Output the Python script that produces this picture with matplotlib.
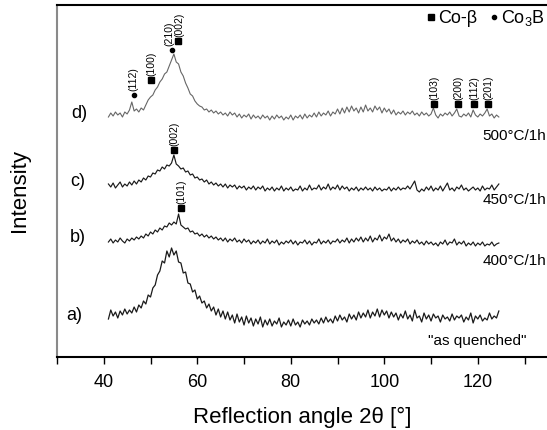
import numpy as np
import matplotlib
matplotlib.use("Agg")
import matplotlib.pyplot as plt
from matplotlib.lines import Line2D
from matplotlib.ticker import MultipleLocator

plt.rcParams["font.family"] = ["Liberation Sans", "DejaVu Sans"]
plt.rcParams["mathtext.fontset"] = "custom"
plt.rcParams["mathtext.rm"] = "Liberation Sans"
plt.rcParams["mathtext.it"] = "Liberation Sans:italic"

# XRD scans: 2theta from 41 deg in 0.5 deg steps, arbitrary units
angle_start = 41.0
angle_step = 0.5

# fmt: off
as_quenched = [
    18, 27, 21, 25, 19, 26, 22, 28, 23, 27,
    24, 30, 25, 32, 29, 36, 33, 42, 40, 49,
    52, 62, 66, 76, 74, 86, 80, 89, 82, 86,
    75, 74, 64, 65, 54, 53, 45, 47, 38, 41,
    34, 36, 29, 33, 26, 30, 22, 28, 20, 26,
    18, 25, 17, 22, 14, 23, 15, 20, 12, 21,
    14, 19, 11, 18, 13, 20, 10, 17, 12, 18,
    11, 16, 13, 19, 10, 15, 12, 17, 11, 18,
    12, 15, 10, 17, 13, 16, 12, 18, 14, 17,
    13, 19, 14, 20, 15, 18, 14, 21, 16, 22,
    17, 20, 15, 23, 18, 22, 17, 25, 19, 24,
    20, 27, 19, 25, 21, 28, 20, 27, 22, 26,
    19, 25, 20, 24, 17, 23, 19, 26, 18, 22,
    16, 27, 19, 21, 15, 24, 18, 22, 16, 23,
    19, 21, 15, 22, 18, 20, 16, 23, 17, 21,
    19, 22, 15, 20, 17, 24, 14, 21, 18, 22,
    16, 19, 17, 24, 18, 21, 19, 26,
]
annealed_400 = [
    21, 24, 20, 23, 21, 25, 22, 20, 24, 22,
    25, 23, 26, 24, 27, 25, 29, 27, 31, 29,
    33, 31, 35, 33, 37, 36, 40, 38, 41, 39,
    49, 38, 36, 34, 35, 31, 32, 29, 30, 27,
    29, 26, 28, 25, 27, 24, 26, 23, 25, 22,
    25, 21, 24, 22, 25, 21, 23, 20, 24, 21,
    23, 19, 22, 20, 23, 19, 22, 20, 24, 19,
    22, 20, 23, 18, 21, 19, 22, 20, 23, 19,
    22, 18, 21, 20, 23, 19, 22, 18, 21, 20,
    24, 19, 22, 20, 23, 19, 22, 21, 24, 20,
    23, 21, 25, 20, 24, 21, 25, 22, 26, 21,
    25, 22, 27, 21, 25, 23, 28, 22, 26, 24,
    29, 22, 25, 21, 24, 20, 23, 21, 24, 19,
    22, 20, 23, 19, 21, 18, 22, 19, 21, 18,
    20, 17, 21, 19, 23, 18, 21, 20, 24, 18,
    21, 19, 22, 17, 20, 18, 21, 17, 20, 18,
    21, 17, 19, 18, 21, 17, 19, 20,
]
annealed_450 = [
    23, 20, 24, 19, 22, 25, 20, 23, 21, 25,
    22, 26, 23, 27, 25, 29, 27, 31, 30, 34,
    33, 37, 36, 40, 38, 42, 41, 44, 52, 43,
    41, 38, 39, 35, 36, 32, 33, 29, 30, 27,
    28, 25, 27, 23, 25, 22, 24, 21, 23, 20,
    23, 19, 22, 20, 22, 18, 21, 19, 21, 17,
    20, 18, 21, 17, 20, 18, 21, 16, 19, 17,
    20, 16, 19, 17, 21, 16, 19, 17, 20, 16,
    18, 17, 21, 16, 19, 17, 22, 17, 19, 18,
    22, 17, 20, 18, 23, 17, 20, 18, 22, 17,
    21, 18, 20, 16, 19, 17, 20, 16, 19, 17,
    20, 17, 19, 16, 20, 17, 19, 16, 18, 17,
    20, 16, 19, 17, 20, 17, 19, 18, 21, 18,
    22, 26, 17, 15, 18, 16, 20, 17, 21, 16,
    19, 17, 21, 16, 20, 24, 17, 19, 16, 20,
    18, 22, 17, 19, 16, 18, 20, 17, 19, 16,
    21, 17, 19, 18, 22, 17, 20, 23,
]
annealed_500 = [
    17, 21, 18, 22, 19, 21, 17, 22, 20, 24,
    32, 23, 25, 22, 26, 24, 29, 34, 37, 39,
    44, 47, 52, 55, 60, 62, 68, 74, 80, 72,
    70, 62, 58, 51, 46, 40, 38, 33, 30, 28,
    27, 24, 25, 22, 24, 21, 23, 20, 22, 19,
    21, 18, 22, 19, 21, 17, 20, 16, 19, 17,
    20, 15, 19, 16, 18, 15, 19, 16, 18, 14,
    18, 15, 19, 16, 18, 14, 17, 15, 19, 14,
    18, 16, 19, 15, 20, 16, 19, 17, 21, 17,
    22, 18, 21, 19, 23, 18, 22, 20, 25, 20,
    26, 21, 27, 22, 28, 23, 26, 21, 27, 22,
    29, 23, 26, 22, 28, 24, 27, 21, 26, 22,
    25, 20, 24, 19, 22, 20, 23, 19, 22, 20,
    23, 19, 21, 18, 22, 19, 21, 18, 20, 26,
    19, 16, 20, 18, 21, 19, 22, 18, 21, 25,
    18, 17, 20, 18, 21, 17, 24, 19, 17, 20,
    18, 21, 25, 18, 20, 16, 19, 17,
]
# fmt: on

scans = [as_quenched, annealed_400, annealed_450, annealed_500]
sample_labels = ["a)", "b)", "c)", "d)"]
treatment_labels = ['"as quenched"', "400°C/1h", "450°C/1h", "500°C/1h"]

# indexed reflections: angle, hkl, phase
peak_angle = [46.4, 50.2, 54.5, 55.8, 110.7, 115.8, 119.2, 122.2, 55.0, 56.5]
peak_hkl = ["(112)", "(100)", "(210)", "(002)", "(103)", "(200)", "(112)", "(201)", "(002)", "(101)"]
peak_phase = ["Co3B", "Co-b", "Co3B", "Co-b", "Co-b", "Co-b", "Co-b", "Co-b", "Co-b", "Co-b"]

# plot layout
offsets = [20, 94, 150, 223]
colors = ["#1a1a1a", "#1a1a1a", "#1a1a1a", "#666666"]
widths = [0.9, 0.85, 0.85, 0.8]
peak_y = [262, 277, 307, 316, 253, 253, 253, 253, 207, 149]
peak_dx = [0, 0, -1.5, 1.5, 0, 0, 0, 0, 0, 0]
label_pos = [(33.7, 42), (34.4, 119), (34.4, 175), (34.8, 244)]
treat_pos = [(130.5, 16), (134.7, 96), (134.7, 157), (134.7, 221)]

fig = plt.figure(figsize=(5.47, 4.30), dpi=100)
ax = fig.add_axes([57 / 547, 73 / 430, 1 - 57 / 547, 352 / 430])

for scan, off, c, lw in zip(scans, offsets, colors, widths):
    y = np.array(scan, dtype=float)
    two_theta = angle_start + angle_step * np.arange(len(y))
    ax.plot(two_theta, y + off, color=c, lw=lw)

for (lx, ly), txt in zip(label_pos, sample_labels):
    ax.text(lx, ly, txt, fontsize=13, ha="center", va="center")
for (tx, ty), txt in zip(treat_pos, treatment_labels):
    ax.text(tx, ty, txt, fontsize=11, ha="right", va="center")

for ang, hkl, ph, py, dx in zip(peak_angle, peak_hkl, peak_phase, peak_y, peak_dx):
    if ph == "Co3B":
        ax.plot(ang, py, "o", color="black", ms=3)
    else:
        ax.plot(ang, py, "s", color="black", ms=4.5)
    ax.annotate(hkl, (ang, py), xytext=(dx, 3), textcoords="offset points",
                rotation=90, ha="center", va="bottom", fontsize=7.5)

handles = [
    Line2D([], [], ls="none", marker="s", color="black", ms=4.5),
    Line2D([], [], ls="none", marker="o", color="black", ms=3),
]
ax.legend(handles, ["Co-β", "Co$_3$B"], ncol=2, frameon=False, fontsize=13,
          loc="upper right", bbox_to_anchor=(545 / 547, 1 - 8 / 430),
          bbox_transform=fig.transFigure, handlelength=0.5, handletextpad=0.15,
          columnspacing=0.7, borderpad=0, borderaxespad=0)

ax.set_xlim(30, 134.8)
ax.set_ylim(0, 352)
ax.xaxis.set_major_locator(MultipleLocator(20))
ax.xaxis.set_minor_locator(MultipleLocator(10))
ax.set_xticks(range(40, 121, 20))
ax.tick_params(axis="x", which="both", direction="out", length=5, width=1, pad=7, labelsize=13)
ax.set_yticks([])
ax.spines["right"].set_visible(False)
ax.spines["top"].set_linewidth(1.5)
ax.spines["bottom"].set_linewidth(1.5)
ax.spines["left"].set_color("#8a8a8a")
ax.spines["left"].set_linewidth(1.5)

ax.set_xlabel("Reflection angle 2θ [°]", fontsize=16, labelpad=12)
fig.text(20 / 547, 1 - 190 / 430, "Intensity", fontsize=16, rotation=90, ha="center", va="center")

fig.savefig("out.png", dpi=100)
